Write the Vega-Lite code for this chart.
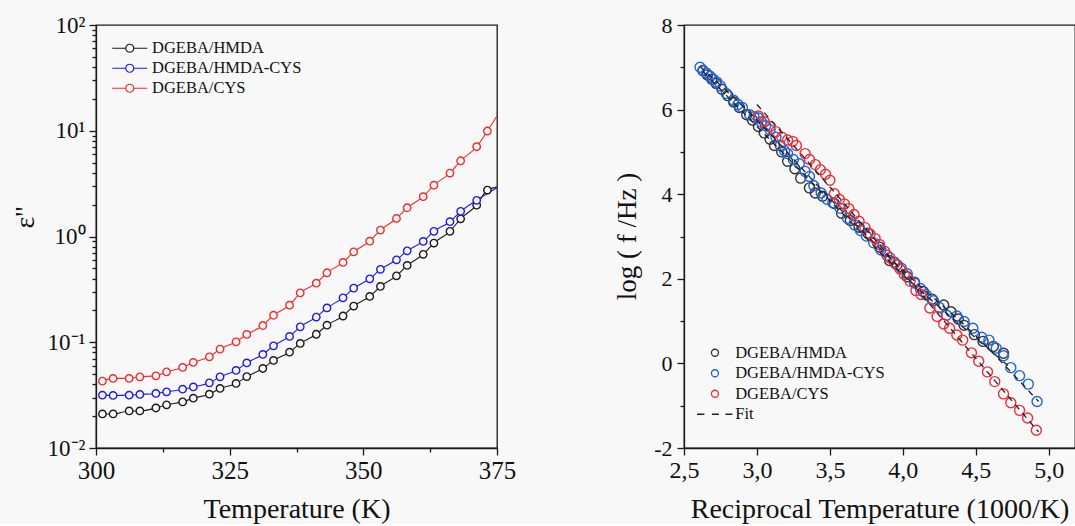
{
  "$schema": "https://vega.github.io/schema/vega-lite/v6.json",
  "background": "#f8f8f8",
  "autosize": {"type": "pad"},
  "padding": {"left": 10, "top": 13, "right": 0, "bottom": 0},
  "bounds": "flush",
  "spacing": 187,
  "config": {
    "font": "Liberation Serif",
    "view": {"stroke": "#1a1a1a", "strokeWidth": 1.3},
    "axis": {
      "labelFont": "Liberation Serif", "titleFont": "Liberation Serif",
      "labelColor": "#111111", "titleColor": "#111111",
      "domainColor": "#1a1a1a", "tickColor": "#1a1a1a",
      "domainWidth": 1.3, "tickWidth": 1.3, "grid": false,
      "titleFontWeight": "normal", "titleFontSize": 28, "labelOverlap": false, "labelFlush": false
    },
    "legend": {"labelFont": "Liberation Serif", "labelFontSize": 16.5, "labelColor": "#111111", "padding": 0}
  },
  "datasets": {
    "dielectric": [
      {"sample": "DGEBA/HMDA", "temperature": 301.2, "loss": 0.0210, "source": "measured"},
      {"sample": "DGEBA/HMDA", "temperature": 303.2, "loss": 0.0210, "source": "measured"},
      {"sample": "DGEBA/HMDA", "temperature": 306.2, "loss": 0.0224, "source": "measured"},
      {"sample": "DGEBA/HMDA", "temperature": 308.2, "loss": 0.0224, "source": "measured"},
      {"sample": "DGEBA/HMDA", "temperature": 311.2, "loss": 0.0239, "source": "measured"},
      {"sample": "DGEBA/HMDA", "temperature": 313.2, "loss": 0.0256, "source": "measured"},
      {"sample": "DGEBA/HMDA", "temperature": 316.2, "loss": 0.0273, "source": "measured"},
      {"sample": "DGEBA/HMDA", "temperature": 318.2, "loss": 0.0296, "source": "measured"},
      {"sample": "DGEBA/HMDA", "temperature": 321.2, "loss": 0.0323, "source": "measured"},
      {"sample": "DGEBA/HMDA", "temperature": 323.2, "loss": 0.0366, "source": "measured"},
      {"sample": "DGEBA/HMDA", "temperature": 326.2, "loss": 0.0408, "source": "measured"},
      {"sample": "DGEBA/HMDA", "temperature": 328.2, "loss": 0.0474, "source": "measured"},
      {"sample": "DGEBA/HMDA", "temperature": 331.2, "loss": 0.0565, "source": "measured"},
      {"sample": "DGEBA/HMDA", "temperature": 333.2, "loss": 0.0673, "source": "measured"},
      {"sample": "DGEBA/HMDA", "temperature": 336.2, "loss": 0.0805, "source": "measured"},
      {"sample": "DGEBA/HMDA", "temperature": 338.2, "loss": 0.0975, "source": "measured"},
      {"sample": "DGEBA/HMDA", "temperature": 341.2, "loss": 0.119, "source": "measured"},
      {"sample": "DGEBA/HMDA", "temperature": 343.2, "loss": 0.145, "source": "measured"},
      {"sample": "DGEBA/HMDA", "temperature": 346.2, "loss": 0.177, "source": "measured"},
      {"sample": "DGEBA/HMDA", "temperature": 348.2, "loss": 0.220, "source": "measured"},
      {"sample": "DGEBA/HMDA", "temperature": 351.2, "loss": 0.271, "source": "measured"},
      {"sample": "DGEBA/HMDA", "temperature": 353.2, "loss": 0.337, "source": "measured"},
      {"sample": "DGEBA/HMDA", "temperature": 356.2, "loss": 0.425, "source": "measured"},
      {"sample": "DGEBA/HMDA", "temperature": 358.2, "loss": 0.533, "source": "measured"},
      {"sample": "DGEBA/HMDA", "temperature": 361.2, "loss": 0.678, "source": "measured"},
      {"sample": "DGEBA/HMDA", "temperature": 363.2, "loss": 0.867, "source": "measured"},
      {"sample": "DGEBA/HMDA", "temperature": 366.2, "loss": 1.12, "source": "measured"},
      {"sample": "DGEBA/HMDA", "temperature": 368.2, "loss": 1.47, "source": "measured"},
      {"sample": "DGEBA/HMDA", "temperature": 371.2, "loss": 1.98, "source": "measured"},
      {"sample": "DGEBA/HMDA", "temperature": 373.2, "loss": 2.75, "source": "measured"},
      {"sample": "DGEBA/HMDA", "temperature": 375.0, "loss": 2.93, "source": "curve"},
      {"sample": "DGEBA/HMDA-CYS", "temperature": 301.2, "loss": 0.0316, "source": "measured"},
      {"sample": "DGEBA/HMDA-CYS", "temperature": 303.2, "loss": 0.0314, "source": "measured"},
      {"sample": "DGEBA/HMDA-CYS", "temperature": 306.2, "loss": 0.0316, "source": "measured"},
      {"sample": "DGEBA/HMDA-CYS", "temperature": 308.2, "loss": 0.0321, "source": "measured"},
      {"sample": "DGEBA/HMDA-CYS", "temperature": 311.2, "loss": 0.0328, "source": "measured"},
      {"sample": "DGEBA/HMDA-CYS", "temperature": 313.2, "loss": 0.0340, "source": "measured"},
      {"sample": "DGEBA/HMDA-CYS", "temperature": 316.2, "loss": 0.0360, "source": "measured"},
      {"sample": "DGEBA/HMDA-CYS", "temperature": 318.2, "loss": 0.0378, "source": "measured"},
      {"sample": "DGEBA/HMDA-CYS", "temperature": 321.2, "loss": 0.0413, "source": "measured"},
      {"sample": "DGEBA/HMDA-CYS", "temperature": 323.2, "loss": 0.0471, "source": "measured"},
      {"sample": "DGEBA/HMDA-CYS", "temperature": 326.2, "loss": 0.0541, "source": "measured"},
      {"sample": "DGEBA/HMDA-CYS", "temperature": 328.2, "loss": 0.0638, "source": "measured"},
      {"sample": "DGEBA/HMDA-CYS", "temperature": 331.2, "loss": 0.0767, "source": "measured"},
      {"sample": "DGEBA/HMDA-CYS", "temperature": 333.2, "loss": 0.0925, "source": "measured"},
      {"sample": "DGEBA/HMDA-CYS", "temperature": 336.2, "loss": 0.1135, "source": "measured"},
      {"sample": "DGEBA/HMDA-CYS", "temperature": 338.2, "loss": 0.140, "source": "measured"},
      {"sample": "DGEBA/HMDA-CYS", "temperature": 341.2, "loss": 0.173, "source": "measured"},
      {"sample": "DGEBA/HMDA-CYS", "temperature": 343.2, "loss": 0.211, "source": "measured"},
      {"sample": "DGEBA/HMDA-CYS", "temperature": 346.2, "loss": 0.263, "source": "measured"},
      {"sample": "DGEBA/HMDA-CYS", "temperature": 348.2, "loss": 0.325, "source": "measured"},
      {"sample": "DGEBA/HMDA-CYS", "temperature": 351.2, "loss": 0.398, "source": "measured"},
      {"sample": "DGEBA/HMDA-CYS", "temperature": 353.2, "loss": 0.489, "source": "measured"},
      {"sample": "DGEBA/HMDA-CYS", "temperature": 356.2, "loss": 0.602, "source": "measured"},
      {"sample": "DGEBA/HMDA-CYS", "temperature": 358.2, "loss": 0.732, "source": "measured"},
      {"sample": "DGEBA/HMDA-CYS", "temperature": 361.2, "loss": 0.899, "source": "measured"},
      {"sample": "DGEBA/HMDA-CYS", "temperature": 363.2, "loss": 1.12, "source": "measured"},
      {"sample": "DGEBA/HMDA-CYS", "temperature": 366.2, "loss": 1.38, "source": "measured"},
      {"sample": "DGEBA/HMDA-CYS", "temperature": 368.2, "loss": 1.73, "source": "measured"},
      {"sample": "DGEBA/HMDA-CYS", "temperature": 371.2, "loss": 2.20, "source": "measured"},
      {"sample": "DGEBA/HMDA-CYS", "temperature": 375.0, "loss": 2.89, "source": "curve"},
      {"sample": "DGEBA/CYS", "temperature": 301.2, "loss": 0.0429, "source": "measured"},
      {"sample": "DGEBA/CYS", "temperature": 303.2, "loss": 0.0455, "source": "measured"},
      {"sample": "DGEBA/CYS", "temperature": 306.2, "loss": 0.0455, "source": "measured"},
      {"sample": "DGEBA/CYS", "temperature": 308.2, "loss": 0.0471, "source": "measured"},
      {"sample": "DGEBA/CYS", "temperature": 311.2, "loss": 0.0481, "source": "measured"},
      {"sample": "DGEBA/CYS", "temperature": 313.2, "loss": 0.0525, "source": "measured"},
      {"sample": "DGEBA/CYS", "temperature": 316.2, "loss": 0.0578, "source": "measured"},
      {"sample": "DGEBA/CYS", "temperature": 318.2, "loss": 0.0644, "source": "measured"},
      {"sample": "DGEBA/CYS", "temperature": 321.2, "loss": 0.0728, "source": "measured"},
      {"sample": "DGEBA/CYS", "temperature": 323.2, "loss": 0.0861, "source": "measured"},
      {"sample": "DGEBA/CYS", "temperature": 326.2, "loss": 0.101, "source": "measured"},
      {"sample": "DGEBA/CYS", "temperature": 328.2, "loss": 0.1186, "source": "measured"},
      {"sample": "DGEBA/CYS", "temperature": 331.2, "loss": 0.144, "source": "measured"},
      {"sample": "DGEBA/CYS", "temperature": 333.2, "loss": 0.180, "source": "measured"},
      {"sample": "DGEBA/CYS", "temperature": 336.2, "loss": 0.224, "source": "measured"},
      {"sample": "DGEBA/CYS", "temperature": 338.2, "loss": 0.293, "source": "measured"},
      {"sample": "DGEBA/CYS", "temperature": 341.2, "loss": 0.362, "source": "measured"},
      {"sample": "DGEBA/CYS", "temperature": 343.2, "loss": 0.454, "source": "measured"},
      {"sample": "DGEBA/CYS", "temperature": 346.2, "loss": 0.569, "source": "measured"},
      {"sample": "DGEBA/CYS", "temperature": 348.2, "loss": 0.716, "source": "measured"},
      {"sample": "DGEBA/CYS", "temperature": 351.2, "loss": 0.904, "source": "measured"},
      {"sample": "DGEBA/CYS", "temperature": 353.2, "loss": 1.15, "source": "measured"},
      {"sample": "DGEBA/CYS", "temperature": 356.2, "loss": 1.48, "source": "measured"},
      {"sample": "DGEBA/CYS", "temperature": 358.2, "loss": 1.87, "source": "measured"},
      {"sample": "DGEBA/CYS", "temperature": 361.2, "loss": 2.38, "source": "measured"},
      {"sample": "DGEBA/CYS", "temperature": 363.2, "loss": 3.06, "source": "measured"},
      {"sample": "DGEBA/CYS", "temperature": 366.2, "loss": 3.98, "source": "measured"},
      {"sample": "DGEBA/CYS", "temperature": 368.2, "loss": 5.20, "source": "measured"},
      {"sample": "DGEBA/CYS", "temperature": 371.2, "loss": 7.06, "source": "measured"},
      {"sample": "DGEBA/CYS", "temperature": 373.2, "loss": 9.94, "source": "measured"},
      {"sample": "DGEBA/CYS", "temperature": 375.0, "loss": 13.8, "source": "curve"}
    ],
    "relaxation": [
      {"sample": "DGEBA/HMDA", "inv_T": 2.63, "log_f": 6.92},
      {"sample": "DGEBA/HMDA", "inv_T": 2.66, "log_f": 6.82},
      {"sample": "DGEBA/HMDA", "inv_T": 2.69, "log_f": 6.72},
      {"sample": "DGEBA/HMDA", "inv_T": 2.72, "log_f": 6.62},
      {"sample": "DGEBA/HMDA", "inv_T": 2.76, "log_f": 6.48},
      {"sample": "DGEBA/HMDA", "inv_T": 2.80, "log_f": 6.33},
      {"sample": "DGEBA/HMDA", "inv_T": 2.84, "log_f": 6.18},
      {"sample": "DGEBA/HMDA", "inv_T": 2.88, "log_f": 6.05},
      {"sample": "DGEBA/HMDA", "inv_T": 2.93, "log_f": 5.88},
      {"sample": "DGEBA/HMDA", "inv_T": 2.97, "log_f": 5.75},
      {"sample": "DGEBA/HMDA", "inv_T": 3.01, "log_f": 5.60},
      {"sample": "DGEBA/HMDA", "inv_T": 3.05, "log_f": 5.45},
      {"sample": "DGEBA/HMDA", "inv_T": 3.09, "log_f": 5.30},
      {"sample": "DGEBA/HMDA", "inv_T": 3.12, "log_f": 5.15},
      {"sample": "DGEBA/HMDA", "inv_T": 3.17, "log_f": 5.00},
      {"sample": "DGEBA/HMDA", "inv_T": 3.21, "log_f": 4.78},
      {"sample": "DGEBA/HMDA", "inv_T": 3.26, "log_f": 4.60},
      {"sample": "DGEBA/HMDA", "inv_T": 3.30, "log_f": 4.38},
      {"sample": "DGEBA/HMDA", "inv_T": 3.36, "log_f": 4.15},
      {"sample": "DGEBA/HMDA", "inv_T": 3.40, "log_f": 4.03},
      {"sample": "DGEBA/HMDA", "inv_T": 3.45, "log_f": 3.95},
      {"sample": "DGEBA/HMDA", "inv_T": 3.53, "log_f": 3.78},
      {"sample": "DGEBA/HMDA", "inv_T": 3.58, "log_f": 3.55},
      {"sample": "DGEBA/HMDA", "inv_T": 3.64, "log_f": 3.38},
      {"sample": "DGEBA/HMDA", "inv_T": 3.70, "log_f": 3.22},
      {"sample": "DGEBA/HMDA", "inv_T": 3.76, "log_f": 3.08},
      {"sample": "DGEBA/HMDA", "inv_T": 3.84, "log_f": 2.75},
      {"sample": "DGEBA/HMDA", "inv_T": 3.91, "log_f": 2.43},
      {"sample": "DGEBA/HMDA", "inv_T": 3.96, "log_f": 2.33},
      {"sample": "DGEBA/HMDA", "inv_T": 4.03, "log_f": 2.05},
      {"sample": "DGEBA/HMDA", "inv_T": 4.08, "log_f": 1.92},
      {"sample": "DGEBA/HMDA", "inv_T": 4.14, "log_f": 1.70},
      {"sample": "DGEBA/HMDA", "inv_T": 4.20, "log_f": 1.52},
      {"sample": "DGEBA/HMDA", "inv_T": 4.28, "log_f": 1.38},
      {"sample": "DGEBA/HMDA", "inv_T": 4.33, "log_f": 1.22},
      {"sample": "DGEBA/HMDA", "inv_T": 4.38, "log_f": 1.05},
      {"sample": "DGEBA/HMDA", "inv_T": 4.42, "log_f": 0.90},
      {"sample": "DGEBA/HMDA", "inv_T": 4.49, "log_f": 0.68},
      {"sample": "DGEBA/HMDA", "inv_T": 4.55, "log_f": 0.52},
      {"sample": "DGEBA/HMDA", "inv_T": 4.62, "log_f": 0.40},
      {"sample": "DGEBA/HMDA", "inv_T": 4.69, "log_f": 0.24},
      {"sample": "DGEBA/HMDA-CYS", "inv_T": 2.61, "log_f": 7.00},
      {"sample": "DGEBA/HMDA-CYS", "inv_T": 2.63, "log_f": 6.93},
      {"sample": "DGEBA/HMDA-CYS", "inv_T": 2.655, "log_f": 6.86},
      {"sample": "DGEBA/HMDA-CYS", "inv_T": 2.68, "log_f": 6.79},
      {"sample": "DGEBA/HMDA-CYS", "inv_T": 2.70, "log_f": 6.72},
      {"sample": "DGEBA/HMDA-CYS", "inv_T": 2.725, "log_f": 6.65},
      {"sample": "DGEBA/HMDA-CYS", "inv_T": 2.75, "log_f": 6.56},
      {"sample": "DGEBA/HMDA-CYS", "inv_T": 2.79, "log_f": 6.38},
      {"sample": "DGEBA/HMDA-CYS", "inv_T": 2.84, "log_f": 6.22},
      {"sample": "DGEBA/HMDA-CYS", "inv_T": 2.87, "log_f": 6.12},
      {"sample": "DGEBA/HMDA-CYS", "inv_T": 2.90, "log_f": 6.05},
      {"sample": "DGEBA/HMDA-CYS", "inv_T": 2.95, "log_f": 5.88},
      {"sample": "DGEBA/HMDA-CYS", "inv_T": 2.98, "log_f": 5.83},
      {"sample": "DGEBA/HMDA-CYS", "inv_T": 3.01, "log_f": 5.80},
      {"sample": "DGEBA/HMDA-CYS", "inv_T": 3.03, "log_f": 5.71},
      {"sample": "DGEBA/HMDA-CYS", "inv_T": 3.06, "log_f": 5.62},
      {"sample": "DGEBA/HMDA-CYS", "inv_T": 3.09, "log_f": 5.52},
      {"sample": "DGEBA/HMDA-CYS", "inv_T": 3.13, "log_f": 5.35},
      {"sample": "DGEBA/HMDA-CYS", "inv_T": 3.16, "log_f": 5.15},
      {"sample": "DGEBA/HMDA-CYS", "inv_T": 3.19, "log_f": 5.02},
      {"sample": "DGEBA/HMDA-CYS", "inv_T": 3.21, "log_f": 4.96},
      {"sample": "DGEBA/HMDA-CYS", "inv_T": 3.25, "log_f": 4.82},
      {"sample": "DGEBA/HMDA-CYS", "inv_T": 3.29, "log_f": 4.72},
      {"sample": "DGEBA/HMDA-CYS", "inv_T": 3.33, "log_f": 4.54},
      {"sample": "DGEBA/HMDA-CYS", "inv_T": 3.36, "log_f": 4.42},
      {"sample": "DGEBA/HMDA-CYS", "inv_T": 3.39, "log_f": 4.20},
      {"sample": "DGEBA/HMDA-CYS", "inv_T": 3.44, "log_f": 4.03},
      {"sample": "DGEBA/HMDA-CYS", "inv_T": 3.48, "log_f": 3.88},
      {"sample": "DGEBA/HMDA-CYS", "inv_T": 3.52, "log_f": 3.80},
      {"sample": "DGEBA/HMDA-CYS", "inv_T": 3.57, "log_f": 3.67},
      {"sample": "DGEBA/HMDA-CYS", "inv_T": 3.62, "log_f": 3.43},
      {"sample": "DGEBA/HMDA-CYS", "inv_T": 3.67, "log_f": 3.27},
      {"sample": "DGEBA/HMDA-CYS", "inv_T": 3.71, "log_f": 3.14},
      {"sample": "DGEBA/HMDA-CYS", "inv_T": 3.75, "log_f": 3.01},
      {"sample": "DGEBA/HMDA-CYS", "inv_T": 3.80, "log_f": 2.85},
      {"sample": "DGEBA/HMDA-CYS", "inv_T": 3.85, "log_f": 2.68},
      {"sample": "DGEBA/HMDA-CYS", "inv_T": 3.89, "log_f": 2.56},
      {"sample": "DGEBA/HMDA-CYS", "inv_T": 3.94, "log_f": 2.40},
      {"sample": "DGEBA/HMDA-CYS", "inv_T": 3.99, "log_f": 2.25},
      {"sample": "DGEBA/HMDA-CYS", "inv_T": 4.03, "log_f": 2.12},
      {"sample": "DGEBA/HMDA-CYS", "inv_T": 4.08, "log_f": 1.90},
      {"sample": "DGEBA/HMDA-CYS", "inv_T": 4.12, "log_f": 1.77},
      {"sample": "DGEBA/HMDA-CYS", "inv_T": 4.16, "log_f": 1.62},
      {"sample": "DGEBA/HMDA-CYS", "inv_T": 4.21, "log_f": 1.48},
      {"sample": "DGEBA/HMDA-CYS", "inv_T": 4.25, "log_f": 1.32},
      {"sample": "DGEBA/HMDA-CYS", "inv_T": 4.30, "log_f": 1.14},
      {"sample": "DGEBA/HMDA-CYS", "inv_T": 4.37, "log_f": 1.12},
      {"sample": "DGEBA/HMDA-CYS", "inv_T": 4.42, "log_f": 0.99},
      {"sample": "DGEBA/HMDA-CYS", "inv_T": 4.48, "log_f": 0.83},
      {"sample": "DGEBA/HMDA-CYS", "inv_T": 4.54, "log_f": 0.62},
      {"sample": "DGEBA/HMDA-CYS", "inv_T": 4.59, "log_f": 0.55},
      {"sample": "DGEBA/HMDA-CYS", "inv_T": 4.64, "log_f": 0.36},
      {"sample": "DGEBA/HMDA-CYS", "inv_T": 4.69, "log_f": 0.18},
      {"sample": "DGEBA/HMDA-CYS", "inv_T": 4.74, "log_f": -0.10},
      {"sample": "DGEBA/HMDA-CYS", "inv_T": 4.80, "log_f": -0.29},
      {"sample": "DGEBA/HMDA-CYS", "inv_T": 4.86, "log_f": -0.49},
      {"sample": "DGEBA/HMDA-CYS", "inv_T": 4.92, "log_f": -0.90},
      {"sample": "DGEBA/CYS", "inv_T": 3.01, "log_f": 5.85},
      {"sample": "DGEBA/CYS", "inv_T": 3.05, "log_f": 5.72},
      {"sample": "DGEBA/CYS", "inv_T": 3.09, "log_f": 5.60},
      {"sample": "DGEBA/CYS", "inv_T": 3.13, "log_f": 5.48},
      {"sample": "DGEBA/CYS", "inv_T": 3.17, "log_f": 5.35},
      {"sample": "DGEBA/CYS", "inv_T": 3.21, "log_f": 5.28},
      {"sample": "DGEBA/CYS", "inv_T": 3.245, "log_f": 5.25},
      {"sample": "DGEBA/CYS", "inv_T": 3.27, "log_f": 5.15},
      {"sample": "DGEBA/CYS", "inv_T": 3.33, "log_f": 4.96},
      {"sample": "DGEBA/CYS", "inv_T": 3.36, "log_f": 4.82},
      {"sample": "DGEBA/CYS", "inv_T": 3.40, "log_f": 4.70},
      {"sample": "DGEBA/CYS", "inv_T": 3.435, "log_f": 4.58},
      {"sample": "DGEBA/CYS", "inv_T": 3.47, "log_f": 4.47},
      {"sample": "DGEBA/CYS", "inv_T": 3.50, "log_f": 4.33},
      {"sample": "DGEBA/CYS", "inv_T": 3.53, "log_f": 4.01},
      {"sample": "DGEBA/CYS", "inv_T": 3.565, "log_f": 3.88},
      {"sample": "DGEBA/CYS", "inv_T": 3.60, "log_f": 3.77},
      {"sample": "DGEBA/CYS", "inv_T": 3.63, "log_f": 3.66},
      {"sample": "DGEBA/CYS", "inv_T": 3.665, "log_f": 3.52},
      {"sample": "DGEBA/CYS", "inv_T": 3.70, "log_f": 3.36},
      {"sample": "DGEBA/CYS", "inv_T": 3.74, "log_f": 3.21},
      {"sample": "DGEBA/CYS", "inv_T": 3.775, "log_f": 3.06},
      {"sample": "DGEBA/CYS", "inv_T": 3.81, "log_f": 2.95},
      {"sample": "DGEBA/CYS", "inv_T": 3.84, "log_f": 2.81},
      {"sample": "DGEBA/CYS", "inv_T": 3.875, "log_f": 2.65},
      {"sample": "DGEBA/CYS", "inv_T": 3.91, "log_f": 2.50},
      {"sample": "DGEBA/CYS", "inv_T": 3.945, "log_f": 2.37},
      {"sample": "DGEBA/CYS", "inv_T": 3.98, "log_f": 2.23},
      {"sample": "DGEBA/CYS", "inv_T": 4.01, "log_f": 2.10},
      {"sample": "DGEBA/CYS", "inv_T": 4.05, "log_f": 1.94},
      {"sample": "DGEBA/CYS", "inv_T": 4.09, "log_f": 1.72},
      {"sample": "DGEBA/CYS", "inv_T": 4.125, "log_f": 1.63},
      {"sample": "DGEBA/CYS", "inv_T": 4.185, "log_f": 1.31},
      {"sample": "DGEBA/CYS", "inv_T": 4.235, "log_f": 1.11},
      {"sample": "DGEBA/CYS", "inv_T": 4.28, "log_f": 0.93},
      {"sample": "DGEBA/CYS", "inv_T": 4.32, "log_f": 0.83},
      {"sample": "DGEBA/CYS", "inv_T": 4.37, "log_f": 0.67},
      {"sample": "DGEBA/CYS", "inv_T": 4.41, "log_f": 0.55},
      {"sample": "DGEBA/CYS", "inv_T": 4.47, "log_f": 0.25},
      {"sample": "DGEBA/CYS", "inv_T": 4.52, "log_f": 0.05},
      {"sample": "DGEBA/CYS", "inv_T": 4.58, "log_f": -0.20},
      {"sample": "DGEBA/CYS", "inv_T": 4.63, "log_f": -0.43},
      {"sample": "DGEBA/CYS", "inv_T": 4.69, "log_f": -0.72},
      {"sample": "DGEBA/CYS", "inv_T": 4.74, "log_f": -0.93},
      {"sample": "DGEBA/CYS", "inv_T": 4.80, "log_f": -1.11},
      {"sample": "DGEBA/CYS", "inv_T": 4.855, "log_f": -1.29},
      {"sample": "DGEBA/CYS", "inv_T": 4.915, "log_f": -1.58}
    ],
    "fit": [
      {"sample": "DGEBA/HMDA", "inv_T": 2.63, "log_f": 6.90},
      {"sample": "DGEBA/HMDA", "inv_T": 3.0, "log_f": 5.60},
      {"sample": "DGEBA/HMDA", "inv_T": 3.5, "log_f": 3.85},
      {"sample": "DGEBA/HMDA", "inv_T": 4.0, "log_f": 2.10},
      {"sample": "DGEBA/HMDA", "inv_T": 4.5, "log_f": 0.60},
      {"sample": "DGEBA/HMDA", "inv_T": 4.72, "log_f": -0.05},
      {"sample": "DGEBA/HMDA-CYS", "inv_T": 2.61, "log_f": 7.02},
      {"sample": "DGEBA/HMDA-CYS", "inv_T": 3.0, "log_f": 5.75},
      {"sample": "DGEBA/HMDA-CYS", "inv_T": 3.5, "log_f": 3.90},
      {"sample": "DGEBA/HMDA-CYS", "inv_T": 4.0, "log_f": 2.20},
      {"sample": "DGEBA/HMDA-CYS", "inv_T": 4.5, "log_f": 0.65},
      {"sample": "DGEBA/HMDA-CYS", "inv_T": 4.93, "log_f": -0.90},
      {"sample": "DGEBA/CYS", "inv_T": 3.0, "log_f": 6.12},
      {"sample": "DGEBA/CYS", "inv_T": 3.5, "log_f": 4.17},
      {"sample": "DGEBA/CYS", "inv_T": 4.0, "log_f": 2.15},
      {"sample": "DGEBA/CYS", "inv_T": 4.5, "log_f": 0.12},
      {"sample": "DGEBA/CYS", "inv_T": 4.93, "log_f": -1.62}
    ]
  },
  "resolve": {"scale": {"stroke": "independent", "shape": "independent"}},
  "hconcat": [
    {
      "width": 401,
      "height": 423,
      "data": {"name": "dielectric"},
      "encoding": {
        "x": {
          "field": "temperature", "type": "quantitative",
          "scale": {"domain": [300, 375], "nice": false, "zero": false},
          "axis": {
            "title": "Temperature (K)",
            "values": [300, 312.5, 325, 337.5, 350, 362.5, 375],
            "labelExpr": "datum.value % 25 == 0 ? format(datum.value, 'd') : ''",
            "tickSize": {"condition": {"test": "datum.value % 25 == 0", "value": 7}, "value": 4},
            "labelFontSize": 25, "labelPadding": 3,
            "titleY": 69, "titleBaseline": "alphabetic"
          }
        },
        "y": {
          "field": "loss", "type": "quantitative",
          "scale": {"type": "log", "domain": [0.01, 100], "nice": false},
          "axis": {
            "title": "ε''",
            "values": [0.01, 0.02, 0.03, 0.04, 0.05, 0.06, 0.07, 0.08, 0.09, 0.1, 0.2, 0.3, 0.4, 0.5, 0.6, 0.7, 0.8, 0.9, 1, 2, 3, 4, 5, 6, 7, 8, 9, 10, 20, 30, 40, 50, 60, 70, 80, 90, 100],
            "labelExpr": "datum.value == 100 ? '10²' : datum.value == 10 ? '10¹' : datum.value == 1 ? '10⁰' : datum.value == 0.1 ? '10⁻¹' : datum.value == 0.01 ? '10⁻²' : ''",
            "tickSize": {"condition": {"test": "datum.value == 100 || datum.value == 10 || datum.value == 1 || datum.value == 0.1 || datum.value == 0.01", "value": 7}, "value": 4},
            "labelFontSize": 23, "labelPadding": 4,
            "titleX": -63, "titleY": 192, "titleAngle": 270, "titleAlign": "center", "titleBaseline": "alphabetic"
          }
        },
        "stroke": {
          "field": "sample", "type": "nominal",
          "scale": {"domain": ["DGEBA/HMDA", "DGEBA/HMDA-CYS", "DGEBA/CYS"], "range": ["#1a1a1a", "#1a1aee", "#f42a2a"]},
          "legend": {
            "title": null, "orient": "none", "legendX": 25.5, "legendY": 15,
            "symbolType": "M-3.5,0H-0.8M0.8,0H3.5M-0.8,0A0.8,0.8 0 1,1 0.8,0A0.8,0.8 0 1,1 -0.8,0",
            "symbolSize": 100, "symbolStrokeWidth": 1.2, "labelOffset": 14, "rowPadding": 3
          }
        }
      },
      "layer": [
        {"mark": {"type": "line", "interpolate": "monotone", "strokeWidth": 1.1}},
        {
          "transform": [{"filter": "datum.source === 'measured'"}],
          "mark": {"type": "point", "shape": "circle", "size": 55, "strokeWidth": 1.4, "fill": "#f8f8f8", "opacity": 1}
        }
      ]
    },
    {
      "width": 391,
      "height": 423,
      "layer": [
        {
          "data": {"name": "relaxation"},
          "mark": {"type": "point", "size": 204, "strokeWidth": 1.4, "filled": false, "opacity": 1},
          "encoding": {
            "x": {
              "field": "inv_T", "type": "quantitative",
              "scale": {"domain": [2.5, 5.18], "nice": false, "zero": false},
              "axis": {
                "title": "Reciprocal Temperature (1000/K)",
                "values": [2.5, 2.75, 3.0, 3.25, 3.5, 3.75, 4.0, 4.25, 4.5, 4.75, 5.0],
                "labelExpr": "(datum.value * 2) % 1 == 0 ? replace(format(datum.value, '.1f'), '.', ',') : ''",
                "tickSize": {"condition": {"test": "(datum.value * 2) % 1 == 0", "value": 7}, "value": 4},
                "labelFontSize": 24, "labelPadding": 3,
                "titleY": 69, "titleBaseline": "alphabetic"
              }
            },
            "y": {
              "field": "log_f", "type": "quantitative",
              "scale": {"domain": [-2, 8], "nice": false, "zero": false},
              "axis": {
                "title": "log ( f /Hz )",
                "values": [-2, -1, 0, 1, 2, 3, 4, 5, 6, 7, 8],
                "labelExpr": "datum.value % 2 == 0 ? (datum.value < 0 ? '-' + abs(datum.value) : '' + datum.value) : ''",
                "tickSize": {"condition": {"test": "datum.value % 2 == 0", "value": 7}, "value": 4},
                "labelFontSize": 22, "labelPadding": 5,
                "titleX": -49, "titleY": 211, "titleAngle": 270, "titleAlign": "center", "titleBaseline": "alphabetic", "titleFontSize": 27
              }
            },
            "stroke": {
              "field": "sample", "type": "nominal",
              "scale": {"domain": ["DGEBA/HMDA", "DGEBA/HMDA-CYS", "DGEBA/CYS", "Fit"], "range": ["#333333", "#1e64dc", "#ee2d3a", "#222222"]},
              "legend": {
                "title": null, "orient": "none", "legendX": 22.7, "legendY": 319.5,
                "symbolSize": 100, "symbolStrokeWidth": 1.3, "labelOffset": 12, "rowPadding": 3.5
              }
            },
            "shape": {
              "field": "sample", "type": "nominal",
              "scale": {"domain": ["DGEBA/HMDA", "DGEBA/HMDA-CYS", "DGEBA/CYS", "Fit"], "range": [
                "M-0.7,0A0.7,0.7 0 1,1 0.7,0A0.7,0.7 0 1,1 -0.7,0",
                "M-0.7,0A0.7,0.7 0 1,1 0.7,0A0.7,0.7 0 1,1 -0.7,0",
                "M-0.7,0A0.7,0.7 0 1,1 0.7,0A0.7,0.7 0 1,1 -0.7,0",
                "M-3.6,0H-2.1M-0.6,0H0.8M2.1,0H3.5"
              ]},
              "legend": {
                "title": null, "orient": "none", "legendX": 22.7, "legendY": 319.5,
                "symbolSize": 100, "symbolStrokeWidth": 1.3, "labelOffset": 12, "rowPadding": 3.5
              }
            }
          }
        },
        {
          "data": {"name": "fit"},
          "mark": {"type": "line", "strokeDash": [6, 5], "strokeWidth": 1.3, "color": "#222222", "interpolate": "monotone"},
          "encoding": {
            "x": {"field": "inv_T", "type": "quantitative"},
            "y": {"field": "log_f", "type": "quantitative"},
            "detail": {"field": "sample", "type": "nominal"}
          }
        }
      ]
    }
  ]
}
